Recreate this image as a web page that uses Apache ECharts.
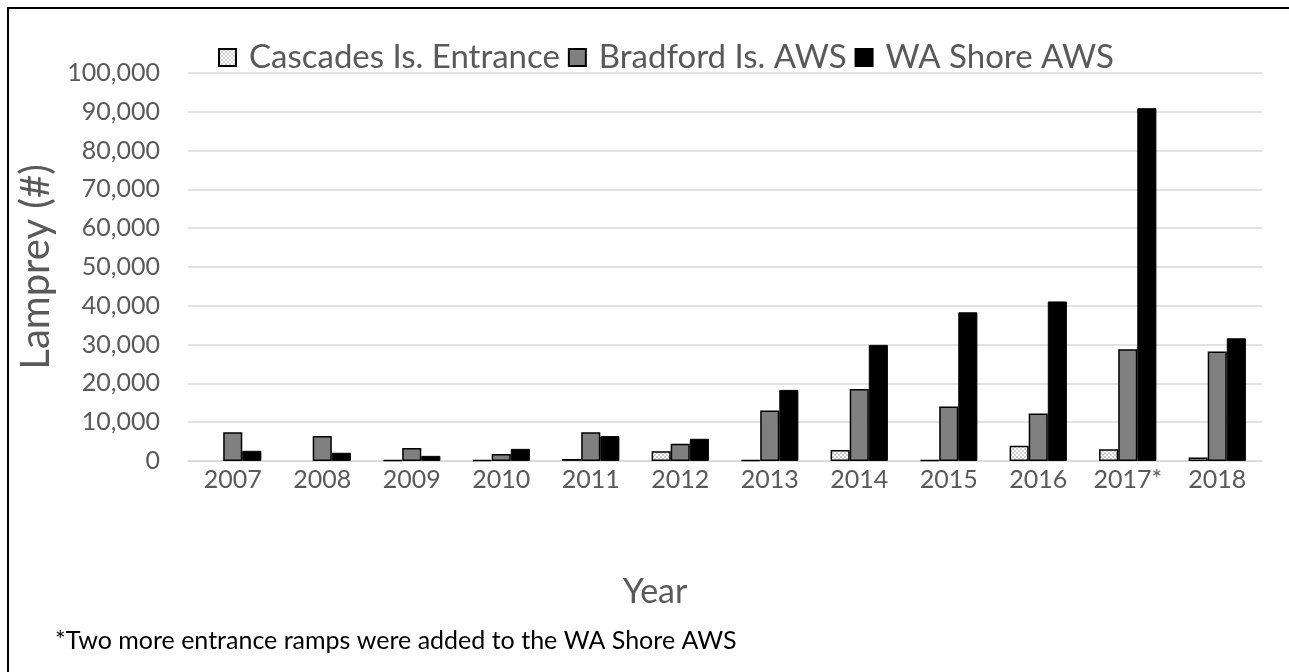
<!DOCTYPE html>
<html>
<head>
<meta charset="utf-8">
<script src="https://cdn.jsdelivr.net/npm/echarts@6/dist/echarts.min.js"></script>
<style>
  html, body { margin: 0; padding: 0; background: #fff; }
  #chart { width: 1289px; height: 672px; }
</style>
</head>
<body>
<div id="chart"></div>
<script>
// Lamprey counts per year at three passage sites (null = no count recorded)
const years = ['2007', '2008', '2009', '2010', '2011', '2012', '2013', '2014', '2015', '2016', '2017*', '2018'];
const cascadesEntrance = [null, null, 150, 150, 500, 2500, 150, 2800, 150, 3900, 3000, 900];
const bradfordAWS = [7400, 6400, 3300, 1800, 7400, 4400, 13000, 18500, 14000, 12200, 28800, 28200];
const waShoreAWS = [2600, 2100, 1300, 3100, 6400, 5700, 18300, 29900, 38300, 41100, 90900, 31600];
const yTicks = [0, 10000, 20000, 30000, 40000, 50000, 60000, 70000, 80000, 90000, 100000];

const FONT = 'Lato, "Open Sans", sans-serif';
const GREY_TEXT = '#595959';

// light dotted fill used for the entrance series
function dotPattern() {
  const c = document.createElement('canvas');
  c.width = 4; c.height = 4;
  const ctx = c.getContext('2d');
  ctx.fillStyle = '#ffffff';
  ctx.fillRect(0, 0, 4, 4);
  ctx.fillStyle = '#d0d0d0';
  ctx.fillRect(0, 0, 2, 2);
  ctx.fillRect(2, 2, 2, 2);
  return { image: c, repeat: 'repeat' };
}

const chart = echarts.init(document.getElementById('chart'), null, { renderer: 'canvas' });

const barBase = {
  type: 'bar',
  barGap: '0%',
  barCategoryGap: '36%',
  animation: false
};

chart.setOption({
  backgroundColor: '#ffffff',
  textStyle: { fontFamily: FONT },
  graphic: [
    {
      type: 'rect',
      shape: { x: 8, y: 8, width: 1400, height: 800 },
      style: { fill: 'none', stroke: '#000', lineWidth: 2 },
      silent: true
    },
    {
      // x-axis title, centred on the whole chart frame
      type: 'text',
      x: 655,
      y: 592,
      style: {
        text: 'Year',
        fill: GREY_TEXT,
        font: '34px ' + FONT,
        align: 'center',
        verticalAlign: 'middle'
      }
    },
    {
      type: 'text',
      x: 55,
      y: 641,
      style: {
        text: '*Two more entrance ramps were added to the WA Shore AWS',
        fill: '#000',
        font: '25px ' + FONT,
        verticalAlign: 'middle'
      }
    }
  ],
  legend: {
    top: 36,
    left: 213,
    itemWidth: 17,
    itemHeight: 17,
    itemGap: 8,
    icon: 'rect',
    textStyle: { fontSize: 33, color: GREY_TEXT, fontFamily: FONT, padding: [0, 0, 0, 8] },
    data: ['Cascades Is. Entrance', 'Bradford Is. AWS', 'WA Shore AWS']
  },
  grid: { left: 188, right: 27, top: 72.9, bottom: 211.1, containLabel: false },
  xAxis: {
    type: 'category',
    data: years,
    axisLine: { show: true, lineStyle: { color: '#d9d9d9', width: 1.5 } },
    axisTick: { show: false },
    axisLabel: { interval: 0, fontSize: 25, color: GREY_TEXT, margin: 7, fontFamily: FONT }
  },
  yAxis: {
    type: 'value',
    min: 0,
    max: 100000,
    interval: 10000,
    name: 'Lamprey (#)',
    nameLocation: 'middle',
    nameGap: 128,
    nameTextStyle: { fontSize: 40, color: GREY_TEXT, fontFamily: FONT },
    axisLine: { show: false },
    axisTick: { show: false },
    splitLine: { lineStyle: { color: '#d9d9d9', width: 1.5 } },
    axisLabel: {
      fontSize: 25,
      color: GREY_TEXT,
      margin: 28,
      fontFamily: FONT,
      formatter: v => yTicks.includes(v) ? v.toLocaleString('en-US') : ''
    }
  },
  series: [
    Object.assign({}, barBase, {
      name: 'Cascades Is. Entrance',
      data: cascadesEntrance,
      itemStyle: { color: dotPattern(), borderColor: '#000', borderWidth: 1.5 }
    }),
    Object.assign({}, barBase, {
      name: 'Bradford Is. AWS',
      data: bradfordAWS,
      itemStyle: { color: '#808080', borderColor: '#000', borderWidth: 1.5 }
    }),
    Object.assign({}, barBase, {
      name: 'WA Shore AWS',
      data: waShoreAWS,
      itemStyle: { color: '#000000', borderColor: '#000', borderWidth: 1 }
    })
  ]
});
</script>
</body>
</html>
